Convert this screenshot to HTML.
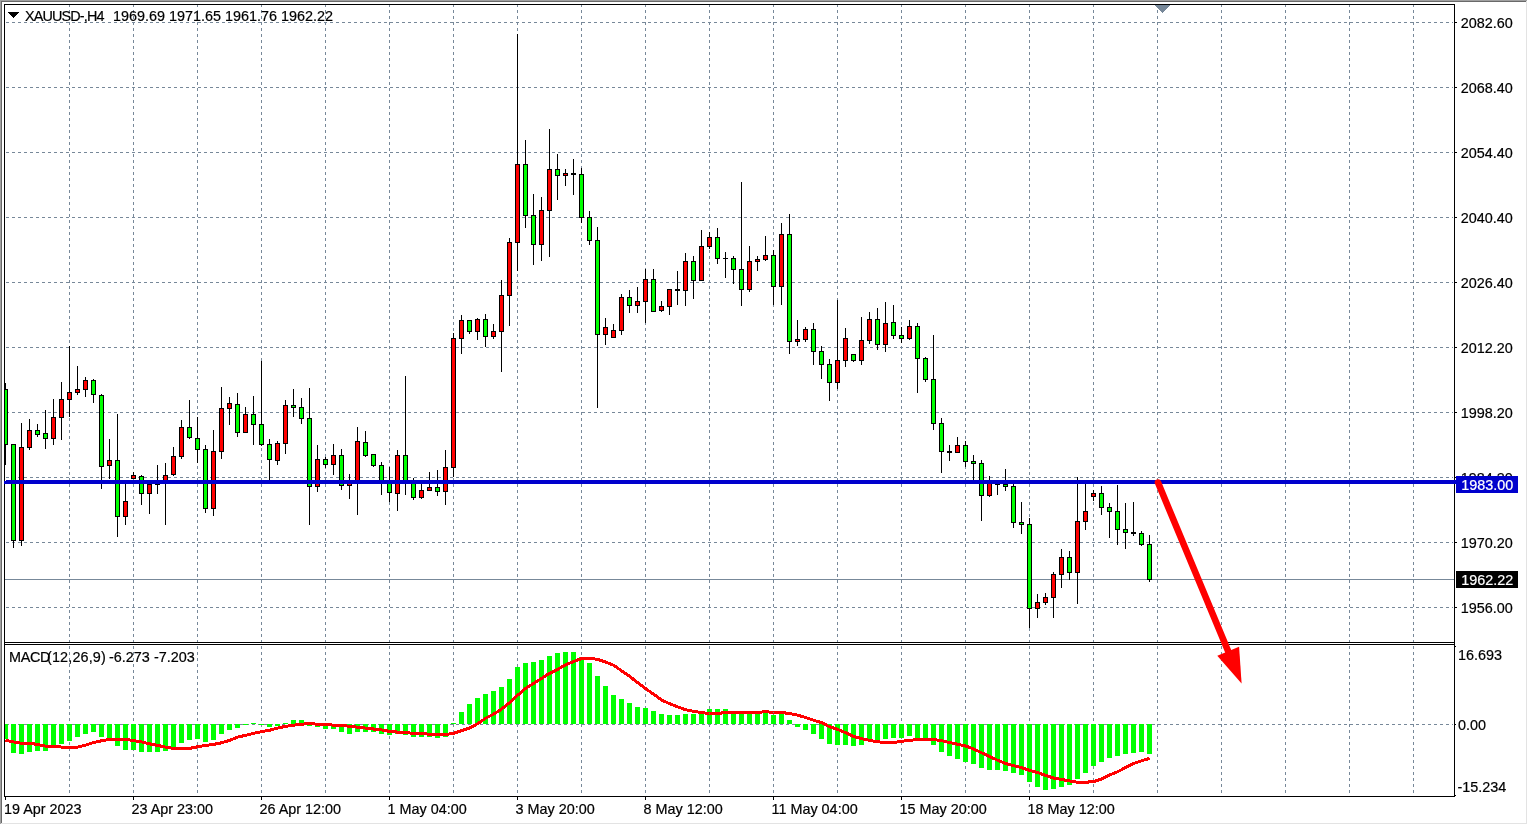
<!DOCTYPE html>
<html><head><meta charset="utf-8"><title>XAUUSD H4</title>
<style>
html,body{margin:0;padding:0;background:#fff}
body{width:1528px;height:825px;overflow:hidden;position:relative;font-family:"Liberation Sans",sans-serif;font-size:14.4px;color:#000}
svg{position:absolute;left:0;top:0;display:block}
.t{position:absolute;white-space:pre;line-height:14px;font-size:14.4px;-webkit-text-stroke:0.2px currentColor}
</style></head><body>
<svg width="1528" height="825" viewBox="0 0 1528 825" shape-rendering="crispEdges">
<defs><clipPath id="cm"><rect x="5" y="5" width="1449" height="637"/></clipPath><clipPath id="cd"><rect x="5" y="645" width="1449" height="151"/></clipPath></defs>
<path d="M6 22.5H1453M6 87.5H1453M6 152.5H1453M6 217.5H1453M6 282.5H1453M6 347.5H1453M6 412.5H1453M6 477.5H1453M6 542.5H1453M6 607.5H1453M69.5 4V642M69.5 646V796M133.5 4V642M133.5 646V796M197.5 4V642M197.5 646V796M261.5 4V642M261.5 646V796M325.5 4V642M325.5 646V796M389.5 4V642M389.5 646V796M453.5 4V642M453.5 646V796M517.5 4V642M517.5 646V796M581.5 4V642M581.5 646V796M645.5 4V642M645.5 646V796M709.5 4V642M709.5 646V796M773.5 4V642M773.5 646V796M837.5 4V642M837.5 646V796M901.5 4V642M901.5 646V796M965.5 4V642M965.5 646V796M1029.5 4V642M1029.5 646V796M1093.5 4V642M1093.5 646V796M1157.5 4V642M1157.5 646V796M1221.5 4V642M1221.5 646V796M1285.5 4V642M1285.5 646V796M1349.5 4V642M1349.5 646V796M1413.5 4V642M1413.5 646V796" stroke="#778899" stroke-width="1" stroke-dasharray="3 3" fill="none"/>
<path d="M6 724.5H1453" stroke="#778899" stroke-width="1" stroke-dasharray="3 3" fill="none"/>
<rect x="5" y="579" width="1449" height="1" fill="#778899"/>
<g clip-path="url(#cm)"><rect x="5" y="383" width="1" height="82" fill="#000"/><rect x="3" y="389" width="5" height="56" fill="#000"/><rect x="4" y="390" width="3" height="54" fill="#00ff00"/><rect x="13" y="444" width="1" height="104" fill="#000"/><rect x="11" y="444" width="5" height="97" fill="#000"/><rect x="12" y="445" width="3" height="95" fill="#00ff00"/><rect x="21" y="423" width="1" height="123" fill="#000"/><rect x="19" y="447" width="5" height="94" fill="#000"/><rect x="20" y="448" width="3" height="92" fill="#ff0000"/><rect x="29" y="419" width="1" height="31" fill="#000"/><rect x="27" y="430" width="5" height="18" fill="#000"/><rect x="28" y="431" width="3" height="16" fill="#ff0000"/><rect x="37" y="424" width="1" height="13" fill="#000"/><rect x="35" y="430" width="5" height="5" fill="#000"/><rect x="36" y="431" width="3" height="3" fill="#00ff00"/><rect x="45" y="410" width="1" height="39" fill="#000"/><rect x="43" y="433" width="5" height="6" fill="#000"/><rect x="44" y="434" width="3" height="4" fill="#00ff00"/><rect x="53" y="399" width="1" height="46" fill="#000"/><rect x="51" y="417" width="5" height="22" fill="#000"/><rect x="52" y="418" width="3" height="20" fill="#ff0000"/><rect x="61" y="382" width="1" height="58" fill="#000"/><rect x="59" y="399" width="5" height="19" fill="#000"/><rect x="60" y="400" width="3" height="17" fill="#ff0000"/><rect x="69" y="346" width="1" height="71" fill="#000"/><rect x="67" y="392" width="5" height="8" fill="#000"/><rect x="68" y="393" width="3" height="6" fill="#ff0000"/><rect x="77" y="366" width="1" height="29" fill="#000"/><rect x="75" y="389" width="5" height="4" fill="#000"/><rect x="76" y="390" width="3" height="2" fill="#ff0000"/><rect x="85" y="377" width="1" height="20" fill="#000"/><rect x="83" y="380" width="5" height="10" fill="#000"/><rect x="84" y="381" width="3" height="8" fill="#ff0000"/><rect x="93" y="379" width="1" height="24" fill="#000"/><rect x="91" y="380" width="5" height="15" fill="#000"/><rect x="92" y="381" width="3" height="13" fill="#00ff00"/><rect x="101" y="394" width="1" height="95" fill="#000"/><rect x="99" y="395" width="5" height="72" fill="#000"/><rect x="100" y="396" width="3" height="70" fill="#00ff00"/><rect x="109" y="439" width="1" height="40" fill="#000"/><rect x="107" y="460" width="5" height="6" fill="#000"/><rect x="108" y="461" width="3" height="4" fill="#ff0000"/><rect x="117" y="414" width="1" height="123" fill="#000"/><rect x="115" y="460" width="5" height="57" fill="#000"/><rect x="116" y="461" width="3" height="55" fill="#00ff00"/><rect x="125" y="482" width="1" height="43" fill="#000"/><rect x="123" y="501" width="5" height="16" fill="#000"/><rect x="124" y="502" width="3" height="14" fill="#ff0000"/><rect x="133" y="472" width="1" height="7" fill="#000"/><rect x="131" y="475" width="5" height="4" fill="#000"/><rect x="132" y="476" width="3" height="2" fill="#ff0000"/><rect x="141" y="475" width="1" height="30" fill="#000"/><rect x="139" y="476" width="5" height="18" fill="#000"/><rect x="140" y="477" width="3" height="16" fill="#00ff00"/><rect x="149" y="483" width="1" height="31" fill="#000"/><rect x="147" y="484" width="5" height="10" fill="#000"/><rect x="148" y="485" width="3" height="8" fill="#ff0000"/><rect x="157" y="465" width="1" height="29" fill="#000"/><rect x="155" y="483" width="5" height="2" fill="#000"/><rect x="165" y="463" width="1" height="62" fill="#000"/><rect x="163" y="475" width="5" height="8" fill="#000"/><rect x="164" y="476" width="3" height="6" fill="#ff0000"/><rect x="173" y="447" width="1" height="29" fill="#000"/><rect x="171" y="456" width="5" height="19" fill="#000"/><rect x="172" y="457" width="3" height="17" fill="#ff0000"/><rect x="181" y="420" width="1" height="39" fill="#000"/><rect x="179" y="427" width="5" height="30" fill="#000"/><rect x="180" y="428" width="3" height="28" fill="#ff0000"/><rect x="189" y="400" width="1" height="39" fill="#000"/><rect x="187" y="427" width="5" height="11" fill="#000"/><rect x="188" y="428" width="3" height="9" fill="#00ff00"/><rect x="197" y="417" width="1" height="46" fill="#000"/><rect x="195" y="438" width="5" height="12" fill="#000"/><rect x="196" y="439" width="3" height="10" fill="#00ff00"/><rect x="205" y="445" width="1" height="68" fill="#000"/><rect x="203" y="449" width="5" height="60" fill="#000"/><rect x="204" y="450" width="3" height="58" fill="#00ff00"/><rect x="213" y="430" width="1" height="86" fill="#000"/><rect x="211" y="451" width="5" height="58" fill="#000"/><rect x="212" y="452" width="3" height="56" fill="#ff0000"/><rect x="221" y="387" width="1" height="72" fill="#000"/><rect x="219" y="408" width="5" height="44" fill="#000"/><rect x="220" y="409" width="3" height="42" fill="#ff0000"/><rect x="229" y="397" width="1" height="28" fill="#000"/><rect x="227" y="403" width="5" height="6" fill="#000"/><rect x="228" y="404" width="3" height="4" fill="#ff0000"/><rect x="237" y="393" width="1" height="44" fill="#000"/><rect x="235" y="404" width="5" height="29" fill="#000"/><rect x="236" y="405" width="3" height="27" fill="#00ff00"/><rect x="245" y="407" width="1" height="26" fill="#000"/><rect x="243" y="414" width="5" height="19" fill="#000"/><rect x="244" y="415" width="3" height="17" fill="#ff0000"/><rect x="253" y="396" width="1" height="49" fill="#000"/><rect x="251" y="414" width="5" height="11" fill="#000"/><rect x="252" y="415" width="3" height="9" fill="#00ff00"/><rect x="261" y="361" width="1" height="85" fill="#000"/><rect x="259" y="424" width="5" height="21" fill="#000"/><rect x="260" y="425" width="3" height="19" fill="#00ff00"/><rect x="269" y="439" width="1" height="43" fill="#000"/><rect x="267" y="444" width="5" height="16" fill="#000"/><rect x="268" y="445" width="3" height="14" fill="#00ff00"/><rect x="277" y="441" width="1" height="24" fill="#000"/><rect x="275" y="443" width="5" height="18" fill="#000"/><rect x="276" y="444" width="3" height="16" fill="#ff0000"/><rect x="285" y="400" width="1" height="54" fill="#000"/><rect x="283" y="405" width="5" height="39" fill="#000"/><rect x="284" y="406" width="3" height="37" fill="#ff0000"/><rect x="293" y="389" width="1" height="28" fill="#000"/><rect x="291" y="405" width="5" height="3" fill="#000"/><rect x="292" y="406" width="3" height="1" fill="#00ff00"/><rect x="301" y="398" width="1" height="26" fill="#000"/><rect x="299" y="407" width="5" height="12" fill="#000"/><rect x="300" y="408" width="3" height="10" fill="#00ff00"/><rect x="309" y="388" width="1" height="137" fill="#000"/><rect x="307" y="418" width="5" height="69" fill="#000"/><rect x="308" y="419" width="3" height="67" fill="#00ff00"/><rect x="317" y="445" width="1" height="47" fill="#000"/><rect x="315" y="459" width="5" height="28" fill="#000"/><rect x="316" y="460" width="3" height="26" fill="#ff0000"/><rect x="325" y="457" width="1" height="11" fill="#000"/><rect x="323" y="459" width="5" height="6" fill="#000"/><rect x="324" y="460" width="3" height="4" fill="#00ff00"/><rect x="333" y="444" width="1" height="31" fill="#000"/><rect x="331" y="455" width="5" height="10" fill="#000"/><rect x="332" y="456" width="3" height="8" fill="#ff0000"/><rect x="341" y="449" width="1" height="41" fill="#000"/><rect x="339" y="455" width="5" height="31" fill="#000"/><rect x="340" y="456" width="3" height="29" fill="#00ff00"/><rect x="349" y="474" width="1" height="25" fill="#000"/><rect x="347" y="483" width="5" height="3" fill="#000"/><rect x="348" y="484" width="3" height="1" fill="#ff0000"/><rect x="357" y="427" width="1" height="88" fill="#000"/><rect x="355" y="441" width="5" height="42" fill="#000"/><rect x="356" y="442" width="3" height="40" fill="#ff0000"/><rect x="365" y="431" width="1" height="26" fill="#000"/><rect x="363" y="442" width="5" height="14" fill="#000"/><rect x="364" y="443" width="3" height="12" fill="#00ff00"/><rect x="373" y="454" width="1" height="13" fill="#000"/><rect x="371" y="454" width="5" height="12" fill="#000"/><rect x="372" y="455" width="3" height="10" fill="#00ff00"/><rect x="381" y="462" width="1" height="33" fill="#000"/><rect x="379" y="465" width="5" height="18" fill="#000"/><rect x="380" y="466" width="3" height="16" fill="#00ff00"/><rect x="389" y="467" width="1" height="35" fill="#000"/><rect x="387" y="483" width="5" height="10" fill="#000"/><rect x="388" y="484" width="3" height="8" fill="#00ff00"/><rect x="397" y="450" width="1" height="61" fill="#000"/><rect x="395" y="455" width="5" height="39" fill="#000"/><rect x="396" y="456" width="3" height="37" fill="#ff0000"/><rect x="405" y="376" width="1" height="119" fill="#000"/><rect x="403" y="455" width="5" height="28" fill="#000"/><rect x="404" y="456" width="3" height="26" fill="#00ff00"/><rect x="413" y="478" width="1" height="22" fill="#000"/><rect x="411" y="483" width="5" height="15" fill="#000"/><rect x="412" y="484" width="3" height="13" fill="#00ff00"/><rect x="421" y="483" width="1" height="16" fill="#000"/><rect x="419" y="490" width="5" height="8" fill="#000"/><rect x="420" y="491" width="3" height="6" fill="#ff0000"/><rect x="429" y="472" width="1" height="19" fill="#000"/><rect x="427" y="487" width="5" height="4" fill="#000"/><rect x="428" y="488" width="3" height="2" fill="#ff0000"/><rect x="437" y="470" width="1" height="26" fill="#000"/><rect x="435" y="487" width="5" height="5" fill="#000"/><rect x="436" y="488" width="3" height="3" fill="#00ff00"/><rect x="445" y="450" width="1" height="55" fill="#000"/><rect x="443" y="467" width="5" height="25" fill="#000"/><rect x="444" y="468" width="3" height="23" fill="#ff0000"/><rect x="453" y="333" width="1" height="144" fill="#000"/><rect x="451" y="338" width="5" height="130" fill="#000"/><rect x="452" y="339" width="3" height="128" fill="#ff0000"/><rect x="461" y="315" width="1" height="39" fill="#000"/><rect x="459" y="320" width="5" height="19" fill="#000"/><rect x="460" y="321" width="3" height="17" fill="#ff0000"/><rect x="469" y="320" width="1" height="14" fill="#000"/><rect x="467" y="320" width="5" height="12" fill="#000"/><rect x="468" y="321" width="3" height="10" fill="#00ff00"/><rect x="477" y="318" width="1" height="22" fill="#000"/><rect x="475" y="319" width="5" height="13" fill="#000"/><rect x="476" y="320" width="3" height="11" fill="#ff0000"/><rect x="485" y="314" width="1" height="33" fill="#000"/><rect x="483" y="319" width="5" height="18" fill="#000"/><rect x="484" y="320" width="3" height="16" fill="#00ff00"/><rect x="493" y="324" width="1" height="15" fill="#000"/><rect x="491" y="331" width="5" height="6" fill="#000"/><rect x="492" y="332" width="3" height="4" fill="#ff0000"/><rect x="501" y="280" width="1" height="92" fill="#000"/><rect x="499" y="295" width="5" height="37" fill="#000"/><rect x="500" y="296" width="3" height="35" fill="#ff0000"/><rect x="509" y="238" width="1" height="88" fill="#000"/><rect x="507" y="242" width="5" height="54" fill="#000"/><rect x="508" y="243" width="3" height="52" fill="#ff0000"/><rect x="517" y="34" width="1" height="237" fill="#000"/><rect x="515" y="164" width="5" height="79" fill="#000"/><rect x="516" y="165" width="3" height="77" fill="#ff0000"/><rect x="525" y="140" width="1" height="88" fill="#000"/><rect x="523" y="164" width="5" height="52" fill="#000"/><rect x="524" y="165" width="3" height="50" fill="#00ff00"/><rect x="533" y="194" width="1" height="71" fill="#000"/><rect x="531" y="215" width="5" height="30" fill="#000"/><rect x="532" y="216" width="3" height="28" fill="#00ff00"/><rect x="541" y="197" width="1" height="64" fill="#000"/><rect x="539" y="210" width="5" height="35" fill="#000"/><rect x="540" y="211" width="3" height="33" fill="#ff0000"/><rect x="549" y="129" width="1" height="128" fill="#000"/><rect x="547" y="169" width="5" height="42" fill="#000"/><rect x="548" y="170" width="3" height="40" fill="#ff0000"/><rect x="557" y="154" width="1" height="46" fill="#000"/><rect x="555" y="169" width="5" height="7" fill="#000"/><rect x="556" y="170" width="3" height="5" fill="#00ff00"/><rect x="565" y="169" width="1" height="17" fill="#000"/><rect x="563" y="173" width="5" height="3" fill="#000"/><rect x="564" y="174" width="3" height="1" fill="#ff0000"/><rect x="573" y="159" width="1" height="36" fill="#000"/><rect x="571" y="173" width="5" height="2" fill="#000"/><rect x="581" y="168" width="1" height="55" fill="#000"/><rect x="579" y="174" width="5" height="44" fill="#000"/><rect x="580" y="175" width="3" height="42" fill="#00ff00"/><rect x="589" y="211" width="1" height="34" fill="#000"/><rect x="587" y="217" width="5" height="24" fill="#000"/><rect x="588" y="218" width="3" height="22" fill="#00ff00"/><rect x="597" y="227" width="1" height="181" fill="#000"/><rect x="595" y="240" width="5" height="95" fill="#000"/><rect x="596" y="241" width="3" height="93" fill="#00ff00"/><rect x="605" y="318" width="1" height="27" fill="#000"/><rect x="603" y="327" width="5" height="8" fill="#000"/><rect x="604" y="328" width="3" height="6" fill="#ff0000"/><rect x="613" y="324" width="1" height="14" fill="#000"/><rect x="611" y="330" width="5" height="8" fill="#000"/><rect x="612" y="331" width="3" height="6" fill="#ff0000"/><rect x="621" y="294" width="1" height="41" fill="#000"/><rect x="619" y="297" width="5" height="34" fill="#000"/><rect x="620" y="298" width="3" height="32" fill="#ff0000"/><rect x="629" y="290" width="1" height="23" fill="#000"/><rect x="627" y="297" width="5" height="9" fill="#000"/><rect x="628" y="298" width="3" height="7" fill="#00ff00"/><rect x="637" y="287" width="1" height="26" fill="#000"/><rect x="635" y="301" width="5" height="5" fill="#000"/><rect x="636" y="302" width="3" height="3" fill="#ff0000"/><rect x="645" y="269" width="1" height="54" fill="#000"/><rect x="643" y="279" width="5" height="23" fill="#000"/><rect x="644" y="280" width="3" height="21" fill="#ff0000"/><rect x="653" y="269" width="1" height="43" fill="#000"/><rect x="651" y="279" width="5" height="33" fill="#000"/><rect x="652" y="280" width="3" height="31" fill="#00ff00"/><rect x="661" y="301" width="1" height="11" fill="#000"/><rect x="659" y="306" width="5" height="5" fill="#000"/><rect x="660" y="307" width="3" height="3" fill="#ff0000"/><rect x="669" y="289" width="1" height="26" fill="#000"/><rect x="667" y="289" width="5" height="18" fill="#000"/><rect x="668" y="290" width="3" height="16" fill="#ff0000"/><rect x="677" y="271" width="1" height="34" fill="#000"/><rect x="675" y="289" width="5" height="2" fill="#000"/><rect x="685" y="253" width="1" height="53" fill="#000"/><rect x="683" y="261" width="5" height="30" fill="#000"/><rect x="684" y="262" width="3" height="28" fill="#ff0000"/><rect x="693" y="256" width="1" height="43" fill="#000"/><rect x="691" y="261" width="5" height="20" fill="#000"/><rect x="692" y="262" width="3" height="18" fill="#00ff00"/><rect x="701" y="230" width="1" height="51" fill="#000"/><rect x="699" y="246" width="5" height="35" fill="#000"/><rect x="700" y="247" width="3" height="33" fill="#ff0000"/><rect x="709" y="232" width="1" height="17" fill="#000"/><rect x="707" y="237" width="5" height="10" fill="#000"/><rect x="708" y="238" width="3" height="8" fill="#ff0000"/><rect x="717" y="228" width="1" height="36" fill="#000"/><rect x="715" y="237" width="5" height="22" fill="#000"/><rect x="716" y="238" width="3" height="20" fill="#00ff00"/><rect x="725" y="252" width="1" height="26" fill="#000"/><rect x="723" y="258" width="5" height="1" fill="#000"/><rect x="733" y="256" width="1" height="28" fill="#000"/><rect x="731" y="258" width="5" height="12" fill="#000"/><rect x="732" y="259" width="3" height="10" fill="#00ff00"/><rect x="741" y="182" width="1" height="124" fill="#000"/><rect x="739" y="269" width="5" height="21" fill="#000"/><rect x="740" y="270" width="3" height="19" fill="#00ff00"/><rect x="749" y="246" width="1" height="46" fill="#000"/><rect x="747" y="261" width="5" height="29" fill="#000"/><rect x="748" y="262" width="3" height="27" fill="#ff0000"/><rect x="757" y="256" width="1" height="15" fill="#000"/><rect x="755" y="259" width="5" height="3" fill="#000"/><rect x="756" y="260" width="3" height="1" fill="#ff0000"/><rect x="765" y="236" width="1" height="25" fill="#000"/><rect x="763" y="255" width="5" height="5" fill="#000"/><rect x="764" y="256" width="3" height="3" fill="#ff0000"/><rect x="773" y="250" width="1" height="55" fill="#000"/><rect x="771" y="255" width="5" height="32" fill="#000"/><rect x="772" y="256" width="3" height="30" fill="#00ff00"/><rect x="781" y="223" width="1" height="82" fill="#000"/><rect x="779" y="234" width="5" height="53" fill="#000"/><rect x="780" y="235" width="3" height="51" fill="#ff0000"/><rect x="789" y="214" width="1" height="140" fill="#000"/><rect x="787" y="234" width="5" height="108" fill="#000"/><rect x="788" y="235" width="3" height="106" fill="#00ff00"/><rect x="797" y="320" width="1" height="26" fill="#000"/><rect x="795" y="339" width="5" height="3" fill="#000"/><rect x="796" y="340" width="3" height="1" fill="#ff0000"/><rect x="805" y="327" width="1" height="15" fill="#000"/><rect x="803" y="329" width="5" height="11" fill="#000"/><rect x="804" y="330" width="3" height="9" fill="#ff0000"/><rect x="813" y="323" width="1" height="42" fill="#000"/><rect x="811" y="329" width="5" height="23" fill="#000"/><rect x="812" y="330" width="3" height="21" fill="#00ff00"/><rect x="821" y="346" width="1" height="33" fill="#000"/><rect x="819" y="351" width="5" height="14" fill="#000"/><rect x="820" y="352" width="3" height="12" fill="#00ff00"/><rect x="829" y="359" width="1" height="42" fill="#000"/><rect x="827" y="364" width="5" height="19" fill="#000"/><rect x="828" y="365" width="3" height="17" fill="#00ff00"/><rect x="837" y="300" width="1" height="89" fill="#000"/><rect x="835" y="360" width="5" height="23" fill="#000"/><rect x="836" y="361" width="3" height="21" fill="#ff0000"/><rect x="845" y="328" width="1" height="39" fill="#000"/><rect x="843" y="338" width="5" height="23" fill="#000"/><rect x="844" y="339" width="3" height="21" fill="#ff0000"/><rect x="853" y="354" width="1" height="8" fill="#000"/><rect x="851" y="354" width="5" height="7" fill="#000"/><rect x="852" y="355" width="3" height="5" fill="#00ff00"/><rect x="861" y="317" width="1" height="48" fill="#000"/><rect x="859" y="340" width="5" height="21" fill="#000"/><rect x="860" y="341" width="3" height="19" fill="#ff0000"/><rect x="869" y="312" width="1" height="32" fill="#000"/><rect x="867" y="319" width="5" height="22" fill="#000"/><rect x="868" y="320" width="3" height="20" fill="#ff0000"/><rect x="877" y="308" width="1" height="42" fill="#000"/><rect x="875" y="319" width="5" height="26" fill="#000"/><rect x="876" y="320" width="3" height="24" fill="#00ff00"/><rect x="885" y="302" width="1" height="50" fill="#000"/><rect x="883" y="323" width="5" height="22" fill="#000"/><rect x="884" y="324" width="3" height="20" fill="#ff0000"/><rect x="893" y="305" width="1" height="34" fill="#000"/><rect x="891" y="322" width="5" height="14" fill="#000"/><rect x="892" y="323" width="3" height="12" fill="#00ff00"/><rect x="901" y="327" width="1" height="16" fill="#000"/><rect x="899" y="335" width="5" height="4" fill="#000"/><rect x="900" y="336" width="3" height="2" fill="#00ff00"/><rect x="909" y="320" width="1" height="20" fill="#000"/><rect x="907" y="326" width="5" height="13" fill="#000"/><rect x="908" y="327" width="3" height="11" fill="#ff0000"/><rect x="917" y="323" width="1" height="70" fill="#000"/><rect x="915" y="326" width="5" height="33" fill="#000"/><rect x="916" y="327" width="3" height="31" fill="#00ff00"/><rect x="925" y="357" width="1" height="25" fill="#000"/><rect x="923" y="358" width="5" height="22" fill="#000"/><rect x="924" y="359" width="3" height="20" fill="#00ff00"/><rect x="933" y="335" width="1" height="95" fill="#000"/><rect x="931" y="379" width="5" height="45" fill="#000"/><rect x="932" y="380" width="3" height="43" fill="#00ff00"/><rect x="941" y="418" width="1" height="55" fill="#000"/><rect x="939" y="423" width="5" height="29" fill="#000"/><rect x="940" y="424" width="3" height="27" fill="#00ff00"/><rect x="949" y="445" width="1" height="16" fill="#000"/><rect x="947" y="451" width="5" height="2" fill="#000"/><rect x="957" y="437" width="1" height="16" fill="#000"/><rect x="955" y="445" width="5" height="8" fill="#000"/><rect x="956" y="446" width="3" height="6" fill="#ff0000"/><rect x="965" y="441" width="1" height="26" fill="#000"/><rect x="963" y="445" width="5" height="17" fill="#000"/><rect x="964" y="446" width="3" height="15" fill="#00ff00"/><rect x="973" y="455" width="1" height="27" fill="#000"/><rect x="971" y="461" width="5" height="3" fill="#000"/><rect x="972" y="462" width="3" height="1" fill="#00ff00"/><rect x="981" y="460" width="1" height="61" fill="#000"/><rect x="979" y="463" width="5" height="33" fill="#000"/><rect x="980" y="464" width="3" height="31" fill="#00ff00"/><rect x="989" y="476" width="1" height="21" fill="#000"/><rect x="987" y="483" width="5" height="13" fill="#000"/><rect x="988" y="484" width="3" height="11" fill="#ff0000"/><rect x="997" y="482" width="1" height="13" fill="#000"/><rect x="995" y="483" width="5" height="2" fill="#000"/><rect x="1005" y="469" width="1" height="22" fill="#000"/><rect x="1003" y="484" width="5" height="3" fill="#000"/><rect x="1004" y="485" width="3" height="1" fill="#00ff00"/><rect x="1013" y="484" width="1" height="44" fill="#000"/><rect x="1011" y="486" width="5" height="37" fill="#000"/><rect x="1012" y="487" width="3" height="35" fill="#00ff00"/><rect x="1021" y="502" width="1" height="32" fill="#000"/><rect x="1019" y="522" width="5" height="3" fill="#000"/><rect x="1020" y="523" width="3" height="1" fill="#00ff00"/><rect x="1029" y="518" width="1" height="110" fill="#000"/><rect x="1027" y="524" width="5" height="85" fill="#000"/><rect x="1028" y="525" width="3" height="83" fill="#00ff00"/><rect x="1037" y="594" width="1" height="24" fill="#000"/><rect x="1035" y="602" width="5" height="7" fill="#000"/><rect x="1036" y="603" width="3" height="5" fill="#ff0000"/><rect x="1045" y="593" width="1" height="12" fill="#000"/><rect x="1043" y="597" width="5" height="6" fill="#000"/><rect x="1044" y="598" width="3" height="4" fill="#ff0000"/><rect x="1053" y="572" width="1" height="46" fill="#000"/><rect x="1051" y="574" width="5" height="24" fill="#000"/><rect x="1052" y="575" width="3" height="22" fill="#ff0000"/><rect x="1061" y="549" width="1" height="39" fill="#000"/><rect x="1059" y="557" width="5" height="18" fill="#000"/><rect x="1060" y="558" width="3" height="16" fill="#ff0000"/><rect x="1069" y="551" width="1" height="29" fill="#000"/><rect x="1067" y="557" width="5" height="16" fill="#000"/><rect x="1068" y="558" width="3" height="14" fill="#00ff00"/><rect x="1077" y="477" width="1" height="127" fill="#000"/><rect x="1075" y="521" width="5" height="52" fill="#000"/><rect x="1076" y="522" width="3" height="50" fill="#ff0000"/><rect x="1085" y="481" width="1" height="49" fill="#000"/><rect x="1083" y="511" width="5" height="11" fill="#000"/><rect x="1084" y="512" width="3" height="9" fill="#ff0000"/><rect x="1093" y="490" width="1" height="11" fill="#000"/><rect x="1091" y="493" width="5" height="4" fill="#000"/><rect x="1092" y="494" width="3" height="2" fill="#ff0000"/><rect x="1101" y="486" width="1" height="29" fill="#000"/><rect x="1099" y="493" width="5" height="15" fill="#000"/><rect x="1100" y="494" width="3" height="13" fill="#00ff00"/><rect x="1109" y="503" width="1" height="35" fill="#000"/><rect x="1107" y="507" width="5" height="5" fill="#000"/><rect x="1108" y="508" width="3" height="3" fill="#00ff00"/><rect x="1117" y="485" width="1" height="60" fill="#000"/><rect x="1115" y="511" width="5" height="19" fill="#000"/><rect x="1116" y="512" width="3" height="17" fill="#00ff00"/><rect x="1125" y="503" width="1" height="46" fill="#000"/><rect x="1123" y="529" width="5" height="4" fill="#000"/><rect x="1124" y="530" width="3" height="2" fill="#00ff00"/><rect x="1133" y="502" width="1" height="34" fill="#000"/><rect x="1131" y="532" width="5" height="2" fill="#000"/><rect x="1141" y="531" width="1" height="15" fill="#000"/><rect x="1139" y="533" width="5" height="12" fill="#000"/><rect x="1140" y="534" width="3" height="10" fill="#00ff00"/><rect x="1149" y="535" width="1" height="47" fill="#000"/><rect x="1147" y="544" width="5" height="36" fill="#000"/><rect x="1148" y="545" width="3" height="34" fill="#00ff00"/></g>
<g clip-path="url(#cd)"><rect x="3" y="724" width="5" height="15" fill="#00ff00"/><rect x="11" y="724" width="5" height="29" fill="#00ff00"/><rect x="19" y="724" width="5" height="30" fill="#00ff00"/><rect x="27" y="724" width="5" height="28" fill="#00ff00"/><rect x="35" y="724" width="5" height="27" fill="#00ff00"/><rect x="43" y="724" width="5" height="27" fill="#00ff00"/><rect x="51" y="724" width="5" height="21" fill="#00ff00"/><rect x="59" y="724" width="5" height="20" fill="#00ff00"/><rect x="67" y="724" width="5" height="17" fill="#00ff00"/><rect x="75" y="724" width="5" height="13" fill="#00ff00"/><rect x="83" y="724" width="5" height="10" fill="#00ff00"/><rect x="91" y="724" width="5" height="8" fill="#00ff00"/><rect x="99" y="724" width="5" height="13" fill="#00ff00"/><rect x="107" y="724" width="5" height="15" fill="#00ff00"/><rect x="115" y="724" width="5" height="22" fill="#00ff00"/><rect x="123" y="724" width="5" height="26" fill="#00ff00"/><rect x="131" y="724" width="5" height="26" fill="#00ff00"/><rect x="139" y="724" width="5" height="28" fill="#00ff00"/><rect x="147" y="724" width="5" height="28" fill="#00ff00"/><rect x="155" y="724" width="5" height="28" fill="#00ff00"/><rect x="163" y="724" width="5" height="27" fill="#00ff00"/><rect x="171" y="724" width="5" height="24" fill="#00ff00"/><rect x="179" y="724" width="5" height="19" fill="#00ff00"/><rect x="187" y="724" width="5" height="16" fill="#00ff00"/><rect x="195" y="724" width="5" height="15" fill="#00ff00"/><rect x="203" y="724" width="5" height="18" fill="#00ff00"/><rect x="211" y="724" width="5" height="16" fill="#00ff00"/><rect x="219" y="724" width="5" height="10" fill="#00ff00"/><rect x="227" y="724" width="5" height="6" fill="#00ff00"/><rect x="235" y="724" width="5" height="4" fill="#00ff00"/><rect x="243" y="724" width="5" height="1" fill="#00ff00"/><rect x="251" y="723" width="5" height="1" fill="#00ff00"/><rect x="259" y="724" width="5" height="1" fill="#00ff00"/><rect x="267" y="724" width="5" height="3" fill="#00ff00"/><rect x="275" y="724" width="5" height="2" fill="#00ff00"/><rect x="283" y="723" width="5" height="1" fill="#00ff00"/><rect x="291" y="720" width="5" height="4" fill="#00ff00"/><rect x="299" y="720" width="5" height="4" fill="#00ff00"/><rect x="307" y="724" width="5" height="2" fill="#00ff00"/><rect x="315" y="724" width="5" height="3" fill="#00ff00"/><rect x="323" y="724" width="5" height="5" fill="#00ff00"/><rect x="331" y="724" width="5" height="5" fill="#00ff00"/><rect x="339" y="724" width="5" height="8" fill="#00ff00"/><rect x="347" y="724" width="5" height="10" fill="#00ff00"/><rect x="355" y="724" width="5" height="8" fill="#00ff00"/><rect x="363" y="724" width="5" height="8" fill="#00ff00"/><rect x="371" y="724" width="5" height="8" fill="#00ff00"/><rect x="379" y="724" width="5" height="10" fill="#00ff00"/><rect x="387" y="724" width="5" height="11" fill="#00ff00"/><rect x="395" y="724" width="5" height="10" fill="#00ff00"/><rect x="403" y="724" width="5" height="11" fill="#00ff00"/><rect x="411" y="724" width="5" height="13" fill="#00ff00"/><rect x="419" y="724" width="5" height="13" fill="#00ff00"/><rect x="427" y="724" width="5" height="13" fill="#00ff00"/><rect x="435" y="724" width="5" height="14" fill="#00ff00"/><rect x="443" y="724" width="5" height="13" fill="#00ff00"/><rect x="451" y="723" width="5" height="1" fill="#00ff00"/><rect x="459" y="712" width="5" height="12" fill="#00ff00"/><rect x="467" y="704" width="5" height="20" fill="#00ff00"/><rect x="475" y="698" width="5" height="26" fill="#00ff00"/><rect x="483" y="694" width="5" height="30" fill="#00ff00"/><rect x="491" y="691" width="5" height="33" fill="#00ff00"/><rect x="499" y="687" width="5" height="37" fill="#00ff00"/><rect x="507" y="679" width="5" height="45" fill="#00ff00"/><rect x="515" y="667" width="5" height="57" fill="#00ff00"/><rect x="523" y="663" width="5" height="61" fill="#00ff00"/><rect x="531" y="662" width="5" height="62" fill="#00ff00"/><rect x="539" y="660" width="5" height="64" fill="#00ff00"/><rect x="547" y="656" width="5" height="68" fill="#00ff00"/><rect x="555" y="653" width="5" height="71" fill="#00ff00"/><rect x="563" y="652" width="5" height="72" fill="#00ff00"/><rect x="571" y="652" width="5" height="72" fill="#00ff00"/><rect x="579" y="657" width="5" height="67" fill="#00ff00"/><rect x="587" y="663" width="5" height="61" fill="#00ff00"/><rect x="595" y="676" width="5" height="48" fill="#00ff00"/><rect x="603" y="686" width="5" height="38" fill="#00ff00"/><rect x="611" y="695" width="5" height="29" fill="#00ff00"/><rect x="619" y="699" width="5" height="25" fill="#00ff00"/><rect x="627" y="703" width="5" height="21" fill="#00ff00"/><rect x="635" y="707" width="5" height="17" fill="#00ff00"/><rect x="643" y="708" width="5" height="16" fill="#00ff00"/><rect x="651" y="711" width="5" height="13" fill="#00ff00"/><rect x="659" y="714" width="5" height="10" fill="#00ff00"/><rect x="667" y="715" width="5" height="9" fill="#00ff00"/><rect x="675" y="715" width="5" height="9" fill="#00ff00"/><rect x="683" y="714" width="5" height="10" fill="#00ff00"/><rect x="691" y="714" width="5" height="10" fill="#00ff00"/><rect x="699" y="712" width="5" height="12" fill="#00ff00"/><rect x="707" y="709" width="5" height="15" fill="#00ff00"/><rect x="715" y="709" width="5" height="15" fill="#00ff00"/><rect x="723" y="709" width="5" height="15" fill="#00ff00"/><rect x="731" y="712" width="5" height="12" fill="#00ff00"/><rect x="739" y="713" width="5" height="11" fill="#00ff00"/><rect x="747" y="713" width="5" height="11" fill="#00ff00"/><rect x="755" y="713" width="5" height="11" fill="#00ff00"/><rect x="763" y="711" width="5" height="13" fill="#00ff00"/><rect x="771" y="715" width="5" height="9" fill="#00ff00"/><rect x="779" y="713" width="5" height="11" fill="#00ff00"/><rect x="787" y="720" width="5" height="4" fill="#00ff00"/><rect x="795" y="724" width="5" height="3" fill="#00ff00"/><rect x="803" y="724" width="5" height="6" fill="#00ff00"/><rect x="811" y="724" width="5" height="10" fill="#00ff00"/><rect x="819" y="724" width="5" height="15" fill="#00ff00"/><rect x="827" y="724" width="5" height="20" fill="#00ff00"/><rect x="835" y="724" width="5" height="21" fill="#00ff00"/><rect x="843" y="724" width="5" height="21" fill="#00ff00"/><rect x="851" y="724" width="5" height="22" fill="#00ff00"/><rect x="859" y="724" width="5" height="21" fill="#00ff00"/><rect x="867" y="724" width="5" height="17" fill="#00ff00"/><rect x="875" y="724" width="5" height="16" fill="#00ff00"/><rect x="883" y="724" width="5" height="15" fill="#00ff00"/><rect x="891" y="724" width="5" height="14" fill="#00ff00"/><rect x="899" y="724" width="5" height="14" fill="#00ff00"/><rect x="907" y="724" width="5" height="12" fill="#00ff00"/><rect x="915" y="724" width="5" height="16" fill="#00ff00"/><rect x="923" y="724" width="5" height="16" fill="#00ff00"/><rect x="931" y="724" width="5" height="21" fill="#00ff00"/><rect x="939" y="724" width="5" height="28" fill="#00ff00"/><rect x="947" y="724" width="5" height="32" fill="#00ff00"/><rect x="955" y="724" width="5" height="35" fill="#00ff00"/><rect x="963" y="724" width="5" height="38" fill="#00ff00"/><rect x="971" y="724" width="5" height="40" fill="#00ff00"/><rect x="979" y="724" width="5" height="44" fill="#00ff00"/><rect x="987" y="724" width="5" height="46" fill="#00ff00"/><rect x="995" y="724" width="5" height="46" fill="#00ff00"/><rect x="1003" y="724" width="5" height="47" fill="#00ff00"/><rect x="1011" y="724" width="5" height="49" fill="#00ff00"/><rect x="1019" y="724" width="5" height="51" fill="#00ff00"/><rect x="1027" y="724" width="5" height="58" fill="#00ff00"/><rect x="1035" y="724" width="5" height="63" fill="#00ff00"/><rect x="1043" y="724" width="5" height="66" fill="#00ff00"/><rect x="1051" y="724" width="5" height="65" fill="#00ff00"/><rect x="1059" y="724" width="5" height="63" fill="#00ff00"/><rect x="1067" y="724" width="5" height="61" fill="#00ff00"/><rect x="1075" y="724" width="5" height="55" fill="#00ff00"/><rect x="1083" y="724" width="5" height="49" fill="#00ff00"/><rect x="1091" y="724" width="5" height="42" fill="#00ff00"/><rect x="1099" y="724" width="5" height="38" fill="#00ff00"/><rect x="1107" y="724" width="5" height="34" fill="#00ff00"/><rect x="1115" y="724" width="5" height="32" fill="#00ff00"/><rect x="1123" y="724" width="5" height="30" fill="#00ff00"/><rect x="1131" y="724" width="5" height="29" fill="#00ff00"/><rect x="1139" y="724" width="5" height="28" fill="#00ff00"/><rect x="1147" y="724" width="5" height="30" fill="#00ff00"/><polyline points="5.5,740.3 13.5,741.9 21.5,743.2 29.5,743.2 37.5,744.5 45.5,746.1 53.5,746.1 61.5,747.1 69.5,747.1 77.5,747.1 85.5,745.2 93.5,742.5 101.5,740.8 109.5,739.3 117.5,739.3 125.5,739.3 133.5,740.6 141.5,741.9 149.5,743.8 157.5,745.4 165.5,747.1 173.5,748.4 181.5,748.4 189.5,748.4 197.5,746.8 205.5,745.5 213.5,744.4 221.5,742.8 229.5,740.4 237.5,737.1 245.5,735.3 253.5,733.4 261.5,731.6 269.5,730.3 277.5,728.1 285.5,726.3 293.5,725.2 301.5,724.3 309.5,723.5 317.5,724.3 325.5,724.3 333.5,725.2 341.5,725.2 349.5,726.3 357.5,727.2 365.5,728.1 373.5,729.0 381.5,729.9 389.5,731.4 397.5,732.1 405.5,732.5 413.5,733.4 421.5,733.4 429.5,734.3 437.5,734.3 445.5,734.6 453.5,733.3 461.5,730.7 469.5,728.1 477.5,723.8 485.5,718.3 493.5,714.3 501.5,709.1 509.5,702.7 517.5,695.4 525.5,688.4 533.5,683.5 541.5,678.4 549.5,673.4 557.5,669.4 565.5,664.8 573.5,661.5 581.5,658.7 589.5,658.4 597.5,659.3 605.5,662.0 613.5,665.2 621.5,670.7 629.5,676.2 637.5,682.6 645.5,688.6 653.5,694.1 661.5,700.0 669.5,703.6 677.5,706.8 685.5,709.7 693.5,711.3 701.5,712.6 709.5,713.5 717.5,713.5 725.5,712.5 733.5,712.5 741.5,712.5 749.5,712.5 757.5,712.5 765.5,711.6 773.5,712.5 781.5,712.5 789.5,713.5 797.5,715.1 805.5,717.5 813.5,720.2 821.5,722.6 829.5,726.7 837.5,729.4 845.5,732.5 853.5,736.4 861.5,738.6 869.5,740.4 877.5,741.7 885.5,742.6 893.5,742.6 901.5,741.3 909.5,740.4 917.5,739.5 925.5,739.5 933.5,739.5 941.5,740.7 949.5,742.5 957.5,744.2 965.5,746.0 973.5,748.9 981.5,752.7 989.5,756.6 997.5,760.2 1005.5,763.5 1013.5,765.7 1021.5,767.6 1029.5,770.3 1037.5,772.5 1045.5,775.4 1053.5,778.0 1061.5,779.5 1069.5,780.9 1077.5,782.2 1085.5,782.2 1093.5,781.7 1101.5,779.1 1109.5,774.9 1117.5,771.8 1125.5,767.6 1133.5,763.5 1141.5,760.8 1149.5,758.4" fill="none" stroke="#ff0000" stroke-width="3" stroke-linejoin="round"/></g>
<rect x="4" y="4" width="1451" height="1" fill="#000"/>
<rect x="4" y="4" width="1" height="793" fill="#000"/>
<rect x="1454" y="4" width="1" height="793" fill="#000"/>
<rect x="4" y="642" width="1451" height="1" fill="#000"/>
<rect x="4" y="644" width="1451" height="1" fill="#000"/>
<rect x="4" y="796" width="1451" height="1" fill="#000"/>
<rect x="6" y="480" width="1450" height="1" fill="#0000cd"/>
<rect x="4" y="481" width="1452" height="3" fill="#0000cd"/>
<rect x="1455" y="22" width="2" height="1" fill="#000"/>
<rect x="1455" y="87" width="2" height="1" fill="#000"/>
<rect x="1455" y="152" width="2" height="1" fill="#000"/>
<rect x="1455" y="217" width="2" height="1" fill="#000"/>
<rect x="1455" y="282" width="2" height="1" fill="#000"/>
<rect x="1455" y="347" width="2" height="1" fill="#000"/>
<rect x="1455" y="412" width="2" height="1" fill="#000"/>
<rect x="1455" y="477" width="2" height="1" fill="#000"/>
<rect x="1455" y="542" width="2" height="1" fill="#000"/>
<rect x="1455" y="607" width="2" height="1" fill="#000"/>
<rect x="1455" y="646" width="1" height="1" fill="#000"/>
<rect x="1455" y="724" width="1" height="1" fill="#000"/>
<rect x="1455" y="795" width="1" height="1" fill="#000"/>
<rect x="5" y="797" width="1" height="3" fill="#000"/>
<rect x="133" y="797" width="1" height="3" fill="#000"/>
<rect x="261" y="797" width="1" height="3" fill="#000"/>
<rect x="389" y="797" width="1" height="3" fill="#000"/>
<rect x="517" y="797" width="1" height="3" fill="#000"/>
<rect x="645" y="797" width="1" height="3" fill="#000"/>
<rect x="773" y="797" width="1" height="3" fill="#000"/>
<rect x="901" y="797" width="1" height="3" fill="#000"/>
<rect x="1029" y="797" width="1" height="3" fill="#000"/>
<polygon points="1154,5 1170,5 1162,13" fill="#778899"/>
<rect x="8" y="12" width="11" height="1" fill="#000"/>
<rect x="9" y="13" width="9" height="1" fill="#000"/>
<rect x="10" y="14" width="7" height="1" fill="#000"/>
<rect x="11" y="15" width="5" height="1" fill="#000"/>
<rect x="12" y="16" width="3" height="1" fill="#000"/>
<rect x="13" y="17" width="1" height="1" fill="#000"/>
<g shape-rendering="geometricPrecision"><line x1="1158.0" y1="482.6" x2="1228.9" y2="653.1" stroke="#ff0000" stroke-width="6.6" stroke-linecap="round"/><polygon points="1241.6,683.6 1217.3,655.8 1239.1,646.8" fill="#ff0000"/></g>
<rect x="0" y="0" width="1527" height="1" fill="#a0a0a0"/>
<rect x="0" y="0" width="1" height="824" fill="#a0a0a0"/>
<rect x="1" y="1" width="1525" height="1" fill="#696969"/>
<rect x="1" y="1" width="1" height="822" fill="#696969"/>
<rect x="1526" y="1" width="1" height="823" fill="#e3e3e3"/>
<rect x="1" y="823" width="1526" height="1" fill="#e3e3e3"/>
</svg>
<div class="t" style="left:1460.8px;top:16px;color:#000;">2082.60</div>
<div class="t" style="left:1460.8px;top:81px;color:#000;">2068.40</div>
<div class="t" style="left:1460.8px;top:146px;color:#000;">2054.40</div>
<div class="t" style="left:1460.8px;top:211px;color:#000;">2040.40</div>
<div class="t" style="left:1460.8px;top:276px;color:#000;">2026.40</div>
<div class="t" style="left:1460.8px;top:341px;color:#000;">2012.20</div>
<div class="t" style="left:1460.8px;top:406px;color:#000;">1998.20</div>
<div class="t" style="left:1460.8px;top:471px;color:#000;">1984.20</div>
<div class="t" style="left:1460.8px;top:536px;color:#000;">1970.20</div>
<div class="t" style="left:1460.8px;top:601px;color:#000;">1956.00</div>
<div class="t" style="left:25px;top:9px;color:#000;letter-spacing:-0.85px">XAUUSD-,H4</div>
<div class="t" style="left:113px;top:9px;color:#000;">1969.69</div>
<div class="t" style="left:169px;top:9px;color:#000;">1971.65</div>
<div class="t" style="left:225px;top:9px;color:#000;">1961.76</div>
<div class="t" style="left:281px;top:9px;color:#000;">1962.22</div>
<div class="t" style="left:9px;top:650px;color:#000;letter-spacing:-0.3px">MACD</div>
<div class="t" style="left:47px;top:650px;color:#000;letter-spacing:0.15px">(12,26,9)</div>
<div class="t" style="left:109px;top:650px;color:#000;">-6.273</div>
<div class="t" style="left:154px;top:650px;color:#000;">-7.203</div>
<div class="t" style="left:1458px;top:648px;color:#000;">16.693</div>
<div class="t" style="left:1458px;top:718px;color:#000;">0.00</div>
<div class="t" style="left:1457.5px;top:780px;color:#000;">-15.234</div>
<div class="t" style="left:4px;top:802px;color:#000;">19 Apr 2023</div>
<div class="t" style="left:131.5px;top:802px;color:#000;">23 Apr 23:00</div>
<div class="t" style="left:259.5px;top:802px;color:#000;">26 Apr 12:00</div>
<div class="t" style="left:387.5px;top:802px;color:#000;">1 May 04:00</div>
<div class="t" style="left:515.5px;top:802px;color:#000;">3 May 20:00</div>
<div class="t" style="left:643.5px;top:802px;color:#000;">8 May 12:00</div>
<div class="t" style="left:771.5px;top:802px;color:#000;">11 May 04:00</div>
<div class="t" style="left:899.5px;top:802px;color:#000;">15 May 20:00</div>
<div class="t" style="left:1027.5px;top:802px;color:#000;">18 May 12:00</div>
<div style="position:absolute;left:1456px;top:476px;width:62px;height:17px;background:#0000cd"></div><div style="position:absolute;left:1456px;top:571px;width:62px;height:17px;background:#000"></div><div class="t" style="left:1461.2px;top:478px;color:#fff">1983.00</div><div class="t" style="left:1461.2px;top:573px;color:#fff">1962.22</div>
</body></html>
